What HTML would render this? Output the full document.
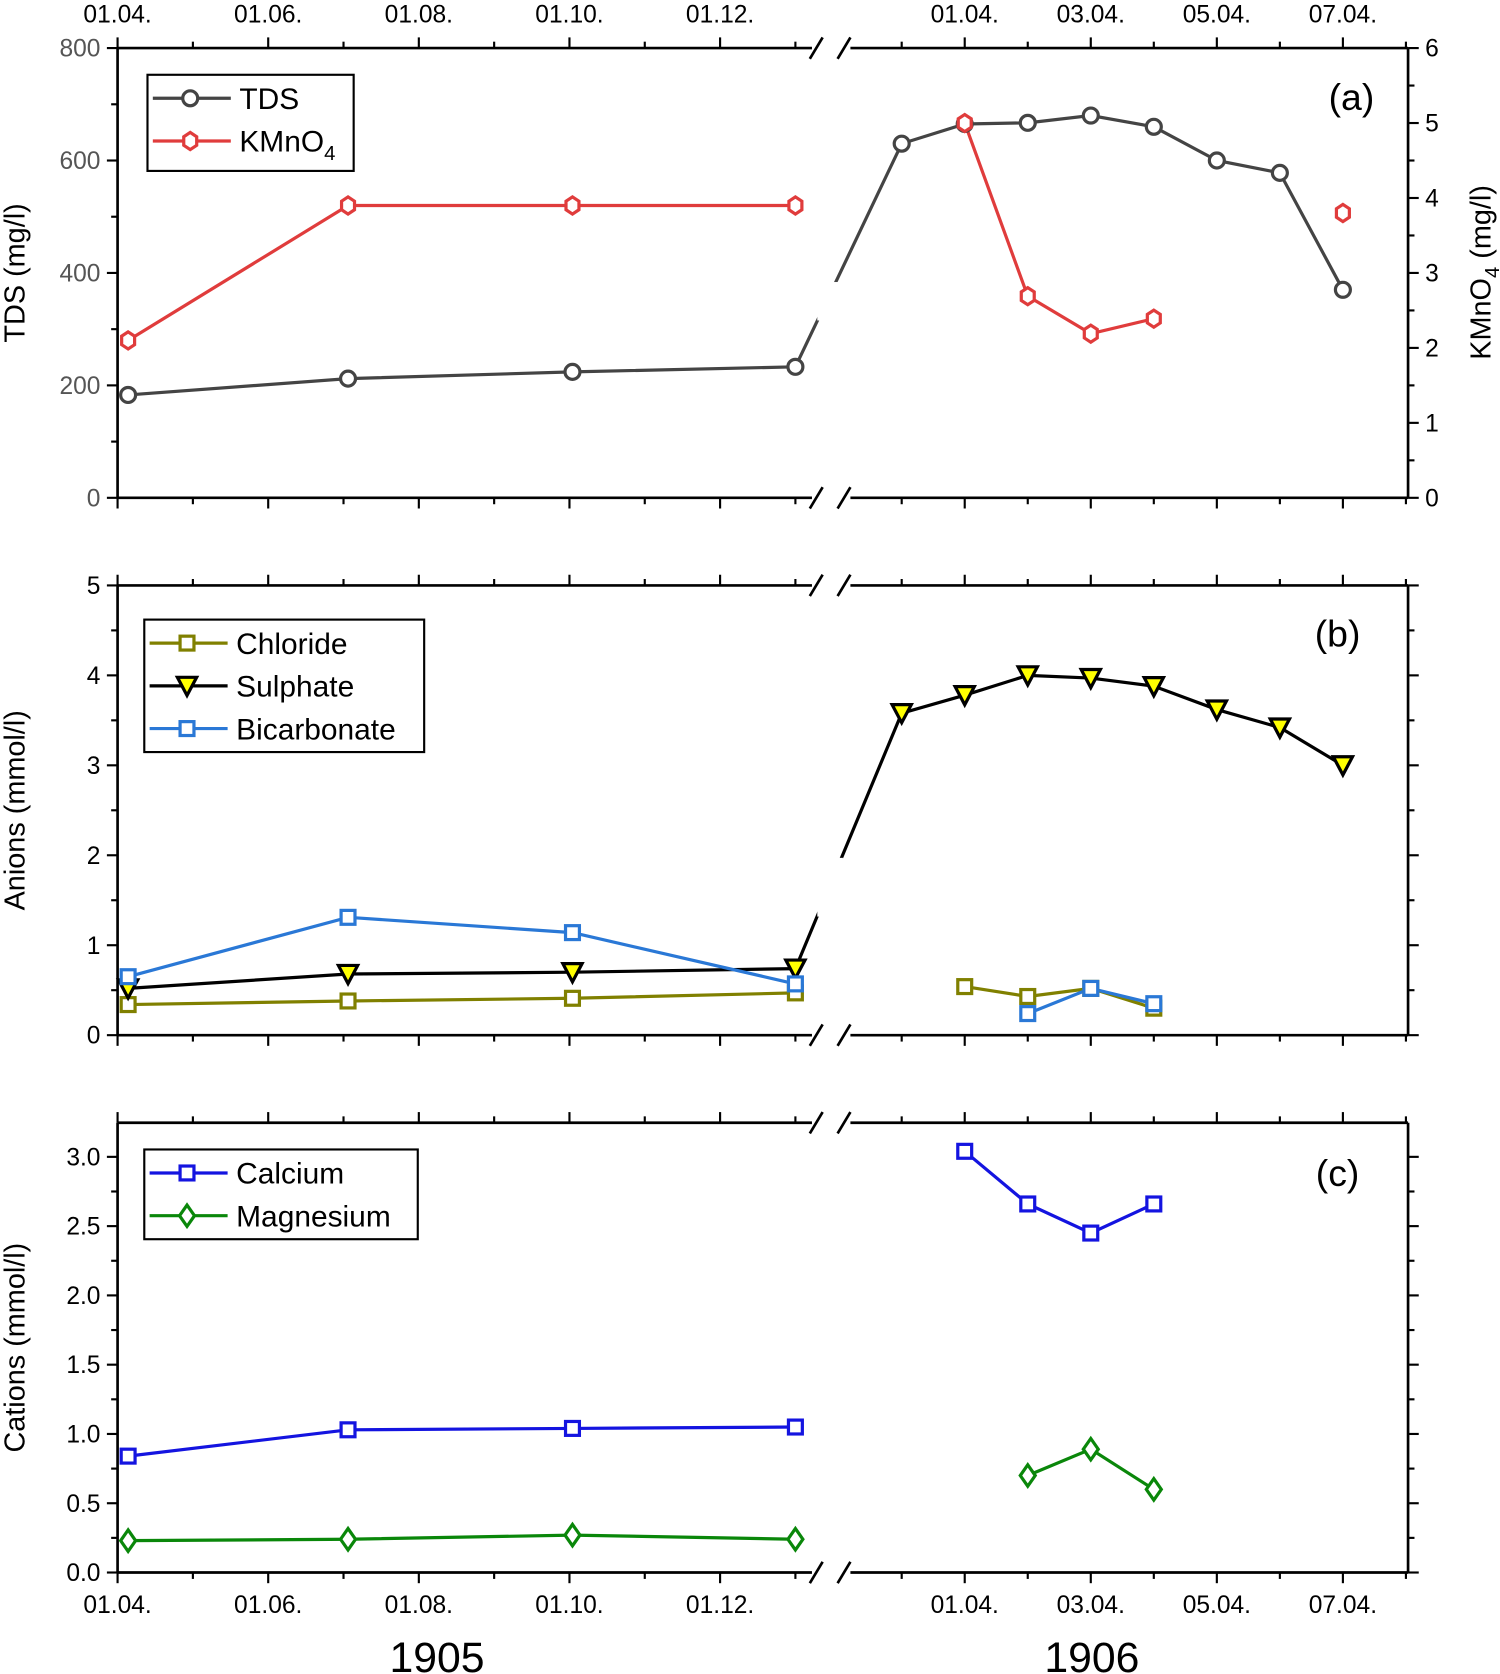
<!DOCTYPE html>
<html><head><meta charset="utf-8"><style>
html,body{margin:0;padding:0;background:#fff}
svg{display:block}
text{font-family:"Liberation Sans",sans-serif}
</style></head><body>
<svg id="chart" width="1500" height="1674" viewBox="0 0 1404 1567" xmlns="http://www.w3.org/2000/svg"></svg>
<script>
// ---- data ----
const x1905 = [0.14, 3.06, 6.04, 9.0];           // months since 01.04.1905
const tdsDays = [-1, 0, 1, 2, 3, 4, 5, 6];       // days relative to 01.04.1906
const tds1905 = [183, 212, 224, 233];
const tds1906 = [630, 665, 667, 680, 660, 600, 578, 370];
const kmn1905 = [2.1, 3.9, 3.9, 3.9];
const kmnDays = [0, 1, 2, 3];
const kmn1906 = [5.0, 2.69, 2.19, 2.39];
const kmnLoneDay = [6];
const kmnLone = [3.8];
const cl1905 = [0.34, 0.38, 0.41, 0.47];
const clDays = [0, 1, 2, 3];
const cl1906 = [0.54, 0.43, 0.52, 0.30];
const so1905 = [0.52, 0.68, 0.70, 0.74];
const soDays = [-1, 0, 1, 2, 3, 4, 5, 6];
const so1906 = [3.58, 3.78, 4.0, 3.97, 3.88, 3.62, 3.42, 3.0];
const hc1905 = [0.65, 1.31, 1.14, 0.57];
const hcDays = [1, 2, 3];
const hc1906 = [0.24, 0.52, 0.35];
const ca1905 = [0.84, 1.03, 1.04, 1.05];
const caDays = [0, 1, 2, 3];
const ca1906 = [3.04, 2.66, 2.45, 2.66];
const mg1905 = [0.23, 0.24, 0.27, 0.24];
const mgDays = [1, 2, 3];
const mg1906 = [0.70, 0.89, 0.60];
const leftTickLabels = ["01.04.", "01.06.", "01.08.", "01.10.", "01.12."];
const rightTickLabels = ["01.04.", "03.04.", "05.04.", "07.04."];

// ---- layout ----
const NS = "http://www.w3.org/2000/svg";
const svg = document.getElementById("chart");
const L = 110, R = 1318, BRK = 778;
const xm = m => L + m * 70.5;
const xd = d => 903 + d * 59;
function el(tag, attrs, parent) {
  const e = document.createElementNS(NS, tag);
  for (const k in attrs) e.setAttribute(k, attrs[k]);
  (parent || svg).appendChild(e);
  return e;
}
function txt(s, x, y, size, anchor, fill, parent) {
  const t = el("text", {x, y, "font-size": size, "text-anchor": anchor || "middle", fill: fill || "#000"}, parent);
  t.textContent = s; return t;
}
function marker(g, type, x, y, color, fill) {
  let m;
  if (type === "circle") m = el("circle", {cx: x, cy: y, r: 7}, g);
  else if (type === "square") m = el("rect", {x: x - 6.5, y: y - 6.5, width: 13, height: 13}, g);
  else if (type === "hex") {
    const p = []; for (let i = 0; i < 6; i++) { const a = Math.PI / 3 * i + Math.PI / 6; p.push((x + 7 * Math.cos(a)) + "," + (y + 8 * Math.sin(a))); }
    m = el("polygon", {points: p.join(" ")}, g);
  } else if (type === "tri") m = el("polygon", {points: `${x-9},${y-8} ${x+9},${y-8} ${x},${y+9}`}, g);
  else if (type === "diamond") m = el("polygon", {points: `${x},${y-10} ${x+7},${y} ${x},${y+10} ${x-7},${y}`}, g);
  m.setAttribute("stroke", color); m.setAttribute("stroke-width", 3); m.setAttribute("fill", fill || "#fff");
  
  
}
function drawSeries(parent, name, ys, xs1, v1, xs2, v2, type, color, fill, bridge) {
  const p1 = v1.map((v, i) => [xm(xs1[i]), ys(v)]);
  const p2 = v2.map((v, i) => [xd(xs2[i]), ys(v)]);
  const g = el("g", {}, parent);
  
  
  const lines = bridge ? [p1.concat(p2)] : [p1, p2];
  lines.forEach(pts => { if (pts.length > 1) {
    const pl = el("polyline", {points: pts.map(p => p.join(",")).join(" "), fill: "none", stroke: color, "stroke-width": 3}, g);
    
    
  }});
  g._pts = p1.concat(p2); g._type = type; g._color = color; g._fill = fill; g._name = name;
  return g;
}
function drawMarkers(parent, s) {
  const g = el("g", {}, parent);
  
  
  s._pts.forEach(p => marker(g, s._type, p[0], p[1], s._color, s._fill));
}
function cover(g, y1, y2) {
  el("rect", {x: BRK - 13, y: y1, width: 24, height: y2 - y1, fill: "#fff"}, g);
}
function panel(id, top, bot, ymax, major, minor, ylabel, leftColor, opts) {
  const ys = v => bot - v / ymax * (bot - top);
  const g = el("g", {});
  
  
  return {ys, g, top, bot, ymax, major, minor, ylabel, leftColor, opts};
}
function frame(P) {
  const {g, top, bot, ys} = P;
  const ax = {stroke: "#000", "stroke-width": 2.5, fill: "none"};
  el("line", Object.assign({x1: L, y1: top, x2: L, y2: bot}, ax), g);
  el("line", Object.assign({x1: R, y1: top, x2: R, y2: bot}, ax), g);
  [top, bot].forEach(y => {
    el("line", Object.assign({x1: L, y1: y, x2: BRK - 18, y2: y}, ax), g);
    el("line", Object.assign({x1: BRK + 18, y1: y, x2: R, y2: y}, ax), g);
    el("line", Object.assign({x1: BRK - 20, y1: y + 10, x2: BRK - 8, y2: y - 10}, ax), g);
    el("line", Object.assign({x1: BRK + 6, y1: y + 10, x2: BRK + 18, y2: y - 10}, ax), g);
  });
  [top, bot].forEach(y => {
    const dir = y === bot ? 1 : -1;
    for (let m = 0; m <= 9; m++) el("line", {x1: xm(m), y1: y, x2: xm(m), y2: y + dir * (m % 2 ? 6 : 10), stroke: "#000", "stroke-width": 2}, g);
    for (let d = -1; d <= 7; d++) el("line", {x1: xd(d), y1: y, x2: xd(d), y2: y + dir * (d % 2 ? 6 : 10), stroke: "#000", "stroke-width": 2}, g);
  });
  for (let v = 0; v <= P.ymax + 1e-9; v += P.minor) {
    const isMaj = Math.abs(v / P.major - Math.round(v / P.major)) < 1e-6;
    const y = ys(v);
    el("line", {x1: L, y1: y, x2: L - (isMaj ? 10 : 6), y2: y, stroke: "#000", "stroke-width": 2}, g);
    if (!P.opts.rightAxis) el("line", {x1: R, y1: y, x2: R + (isMaj ? 10 : 6), y2: y, stroke: "#000", "stroke-width": 2}, g);
    if (isMaj) {
      const t = txt(P.opts.fmt(v), L - 16, y + 8, 23, "end", P.leftColor, g);
      
      
    }
  }
  const yl = txt(P.ylabel, 0, 0, 27, "middle", "#000", g);
  yl.setAttribute("transform", `translate(23,${(top + bot) / 2}) rotate(-90)`);
  
  
}
function xLabels(y, g) {
  leftTickLabels.forEach((s, i) => { const t = txt(s, xm(i * 2), y, 23, "middle", "#000", g);   });
  rightTickLabels.forEach((s, i) => { const t = txt(s, xd(i * 2), y, 23, "middle", "#000", g);   });
}
function legend(g, x, y, w, h, items) {
  const b = el("rect", {x, y, width: w, height: h, fill: "#fff", stroke: "#000", "stroke-width": 2}, g);
  
  
  items.forEach((it, i) => {
    const cy = y + 22 + i * 40;
    const lg = el("g", {}, g);
    
    
    el("line", {x1: x + 5, y1: cy, x2: x + 78, y2: cy, stroke: it.color, "stroke-width": 3}, lg);
    marker(lg, it.type, x + 40, cy, it.color, it.fill);
    const t = txt(it.label, x + 86, cy + 10, 28, "start", "#000", lg);
    if (it.sub) { const s = el("tspan", {"font-size": 19, dy: 8}, t); s.textContent = it.sub; }
  });
}

// ---- panel a ----
const A = panel("panel-a-tds", 45, 466, 800, 200, 100, "TDS (mg/l)", "#555", {rightAxis: true, fmt: v => String(v)});
const ysK = v => A.bot - v / 6 * (A.bot - A.top);
frame(A);
const sTds = drawSeries(A.g, "tds-series", A.ys, x1905, tds1905, tdsDays, tds1906, "circle", "#444", "#fff", true);
const sK1 = drawSeries(A.g, "kmno4-series", ysK, x1905, kmn1905, kmnDays, kmn1906, "hex", "#e03c3c", "#fff", false);
const sK2 = drawSeries(A.g, "kmno4-lone-point", ysK, [], [], kmnLoneDay, kmnLone, "hex", "#e03c3c", "#fff", false);
cover(A.g, 264, 300);
[sTds, sK1, sK2].forEach(s => drawMarkers(A.g, s));
for (let v = 0; v <= 6; v += 0.5) {
  const y = ysK(v), maj = v % 1 === 0;
  el("line", {x1: R, y1: y, x2: R + (maj ? 10 : 6), y2: y, stroke: "#000", "stroke-width": 2}, A.g);
  if (maj) { const t = txt(String(v), R + 16, y + 8, 23, "start", "#000", A.g);   }
}
const ryl = txt("KMnO", 0, 0, 27, "middle", "#000", A.g);
const sub = el("tspan", {"font-size": 19, dy: 8}, ryl); sub.textContent = "4";
const rest = el("tspan", {dy: -8}, ryl); rest.textContent = " (mg/l)";
ryl.setAttribute("transform", `translate(1395,255) rotate(-90)`);


xLabels(21, A.g);
txt("(a)", 1265, 103, 35, "middle", "#000", A.g);
legend(A.g, 138, 70, 193, 90, [
  {label: "TDS", type: "circle", color: "#444"},
  {label: "KMnO", sub: "4", type: "hex", color: "#e03c3c"}]);

// ---- panel b ----
const B = panel("panel-b-anions", 548, 969, 5, 1, 0.5, "Anions (mmol/l)", "#000", {fmt: v => String(v)});
frame(B);
const sCl = drawSeries(B.g, "chloride-series", B.ys, x1905, cl1905, clDays, cl1906, "square", "#808000", "#fff", false);
const sSo = drawSeries(B.g, "sulphate-series", B.ys, x1905, so1905, soDays, so1906, "tri", "#000", "#ffff00", true);
const sHc = drawSeries(B.g, "bicarbonate-series", B.ys, x1905, hc1905, hcDays, hc1906, "square", "#2a78d6", "#fff", false);
cover(B.g, 803, 858);
[sCl, sSo, sHc].forEach(s => drawMarkers(B.g, s));
txt("(b)", 1252, 605, 35, "middle", "#000", B.g);
legend(B.g, 135, 580, 262, 124, [
  {label: "Chloride", type: "square", color: "#808000"},
  {label: "Sulphate", type: "tri", color: "#000", fill: "#ffff00"},
  {label: "Bicarbonate", type: "square", color: "#2a78d6"}]);

// ---- panel c ----
const C = panel("panel-c-cations", 1051, 1472, 3.246, 0.5, 0.25, "Cations (mmol/l)", "#000", {fmt: v => v.toFixed(1)});
frame(C);
const sCa = drawSeries(C.g, "calcium-series", C.ys, x1905, ca1905, caDays, ca1906, "square", "#1414e0", "#fff", false);
const sMg = drawSeries(C.g, "magnesium-series", C.ys, x1905, mg1905, mgDays, mg1906, "diamond", "#0a870a", "#fff", false);
[sCa, sMg].forEach(s => drawMarkers(C.g, s));
xLabels(1510, C.g);
txt("(c)", 1252, 1110, 35, "middle", "#000", C.g);
legend(C.g, 135, 1076, 256, 84, [
  {label: "Calcium", type: "square", color: "#1414e0"},
  {label: "Magnesium", type: "diamond", color: "#0a870a"}]);
const y1 = txt("1905", 409, 1565, 40, "middle", "#000");  
const y2 = txt("1906", 1022, 1565, 40, "middle", "#000");  
</script>
</body></html>
